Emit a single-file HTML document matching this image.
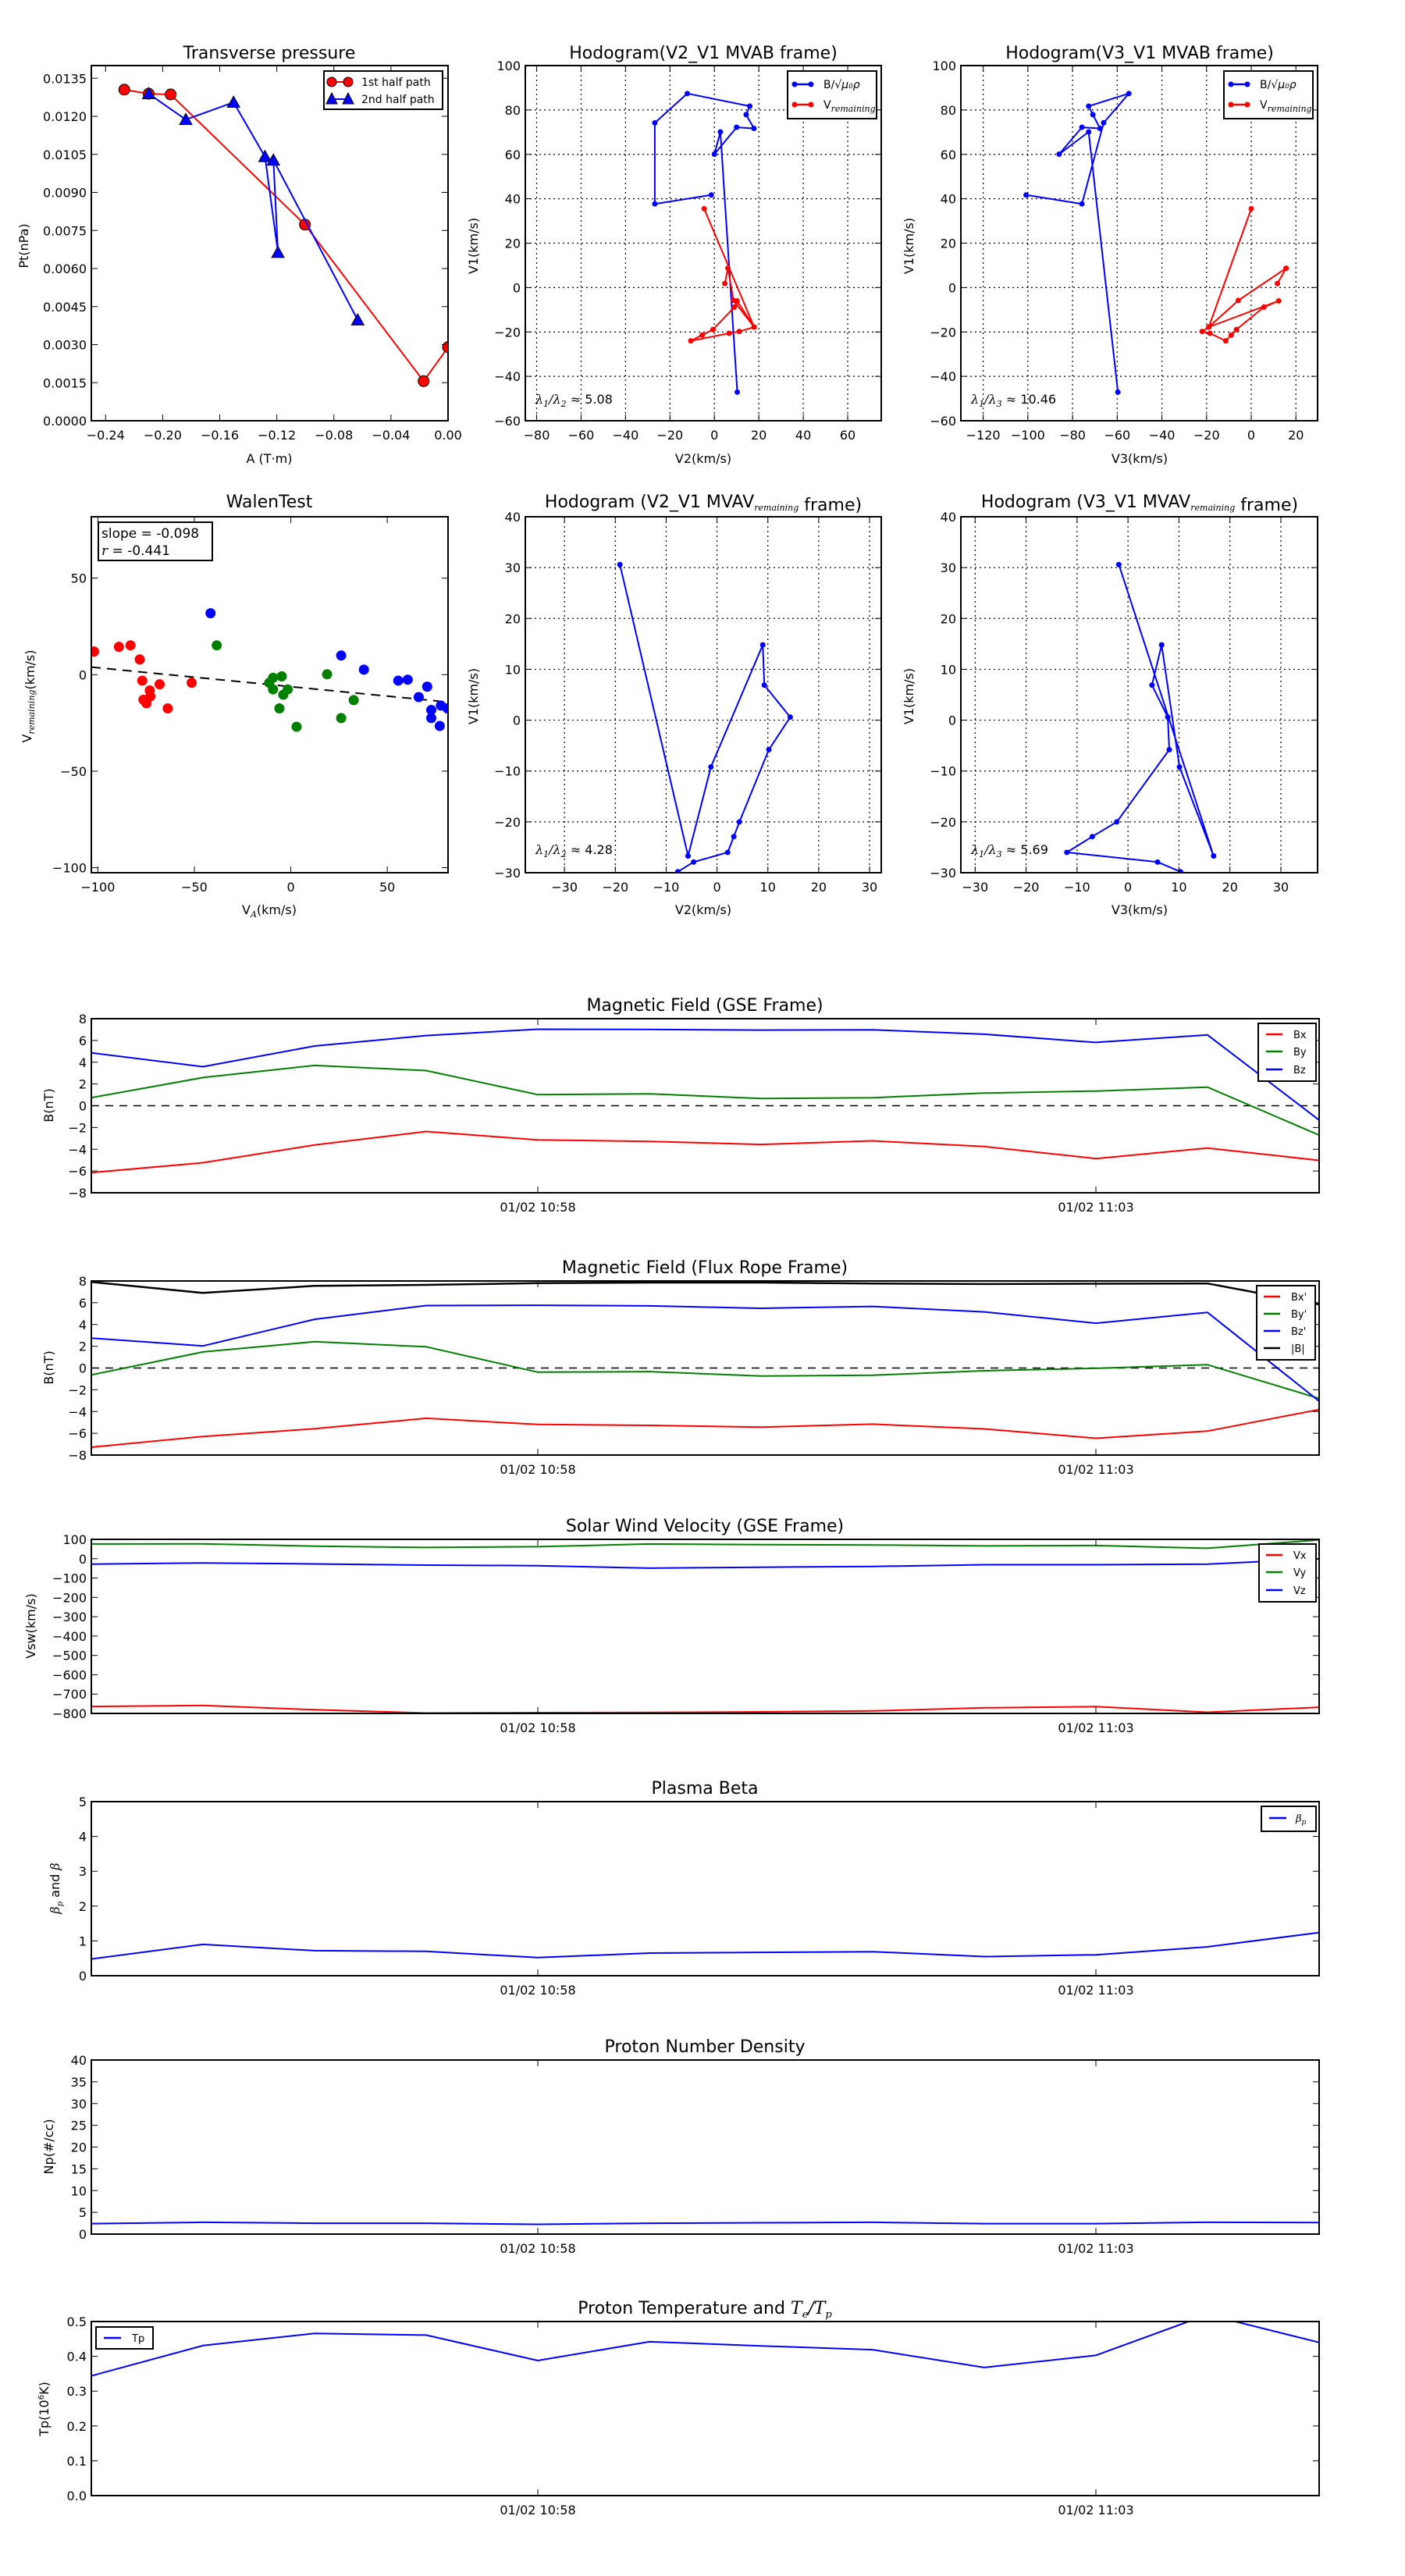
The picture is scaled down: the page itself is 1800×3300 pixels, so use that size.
<!DOCTYPE html>
<html><head><meta charset="utf-8"><title>Flux rope analysis</title>
<style>
html,body{margin:0;padding:0;background:#fff;}
svg{display:block;font-family:"DejaVu Sans","Liberation Sans",sans-serif;}
text{fill:#000;}
</style></head>
<body>
<svg id="fig" xmlns="http://www.w3.org/2000/svg" width="1800" height="3300" viewBox="0 0 1800 3300">
<rect x="0" y="0" width="1800" height="3300" fill="#fff"/>
</svg>
<script>
// ---------- data ----------
const ptA1 = [-0.2269, -0.2098, -0.1944, -0.1003, -0.0171, 0.0];
const ptP1 = [0.01305, 0.01289, 0.01286, 0.00773, 0.00156, 0.00290];
const ptA2 = [-0.2098, -0.1838, -0.1503, -0.1283, -0.1192, -0.1224, -0.0633];
const ptP2 = [0.01289, 0.01187, 0.01255, 0.01041, 0.00663, 0.01027, 0.00397];

const hbV1 = [-47.1, 70.1, 60.1, 72.2, 71.7, 77.9, 81.7, 87.4, 74.2, 37.7, 41.7];
const hbV2 = [10.3, 2.7, 0.0, 10.0, 17.8, 14.3, 15.9, -12.2, -26.8, -26.8, -1.4];
const hbV3 = [-59.7, -72.8, -86.0, -75.8, -67.7, -70.9, -72.8, -54.8, -66.1, -75.8, -100.8];
const hrV1 = [35.5, -17.8, -19.8, -20.6, -24.0, -21.4, -18.9, -8.8, -6.0, -17.8, -5.8, 8.7, 1.8];
const hrV2 = [-4.6, 17.9, 11.2, 6.6, -10.6, -5.5, -0.6, 9.0, 10.2, 17.9, 8.6, 6.1, 4.7];
const hrV3 = [0.0, -19.0, -22.0, -18.5, -11.4, -9.0, -6.6, 5.7, 12.3, -19.0, -5.8, 15.6, 11.7];

const mvV1 = [30.6, -26.7, -9.2, 14.8, 6.9, 0.6, -5.8, -20.0, -22.9, -26.0, -27.9, -29.8];
const mvV2 = [-19.1, -5.7, -1.2, 9.0, 9.3, 14.4, 10.2, 4.4, 3.3, 2.1, -4.6, -7.7];
const mvV3 = [-1.8, 16.8, 10.1, 6.6, 4.7, 7.8, 8.1, -2.2, -7.0, -12.0, 5.8, 10.3];

const walRedX = [-102, -89.1, -83.1, -78.3, -77.0, -76.4, -74.8, -73.1, -72.8, -68.0, -63.8, -51.4];
const walRedY = [12, 14.4, 15.2, 7.9, -3.1, -13.0, -14.8, -8.2, -11.2, -5.0, -17.5, -4.2];
const walGreenX = [-38.4, -11.2, -9.2, -9.2, -4.7, -3.9, -1.6, -5.9, 3.0, 18.8, 26.1, 32.6];
const walGreenY = [15.2, -4.2, -1.6, -7.6, -0.9, -10.4, -7.6, -17.5, -27, 0.2, -22.5, -13.2];
const walBlueX = [-41.6, 26.1, 37.9, 55.7, 60.6, 66.3, 70.7, 72.8, 72.8, 77.2, 77.8, 81.2];
const walBlueY = [31.8, 9.9, 2.6, -3.1, -2.6, -11.6, -6.2, -18.3, -22.5, -26.6, -16, -17.5];
const walSlope = -0.098;
const walIntercept = -6.2;

const timeLabels = ["01/02 10:58", "01/02 11:03"];
const timeTickIdx = [4, 9];
const bx = [-6.15, -5.24, -3.61, -2.37, -3.14, -3.28, -3.56, -3.23, -3.75, -4.86, -3.89, -5.02];
const by = [0.74, 2.59, 3.70, 3.23, 1.02, 1.10, 0.66, 0.74, 1.16, 1.35, 1.71, -2.70];
const bz = [4.86, 3.59, 5.49, 6.45, 7.03, 7.01, 6.95, 6.98, 6.57, 5.82, 6.51, -1.32];
const bxp = [-7.28, -6.29, -5.58, -4.62, -5.19, -5.27, -5.44, -5.16, -5.60, -6.46, -5.80, -3.82];
const byp = [-0.63, 1.48, 2.42, 1.95, -0.38, -0.33, -0.74, -0.66, -0.25, -0.03, 0.30, -2.80];
const bzp = [2.75, 2.03, 4.48, 5.74, 5.77, 5.71, 5.49, 5.66, 5.16, 4.12, 5.11, -3.05];
const bmag = [7.91, 6.90, 7.55, 7.64, 7.80, 7.86, 7.86, 7.77, 7.72, 7.75, 7.77, 5.85];
const vx = [-764, -759, -781, -798, -796, -795, -792, -787, -771, -765, -794, -768];
const vy = [76, 77, 65, 58, 62, 76, 73, 71, 66, 68, 54, 97];
const vz = [-28, -22, -27, -33, -36, -49, -44, -40, -31, -31, -28, -1];
const betaP = [0.48, 0.90, 0.72, 0.70, 0.52, 0.65, 0.67, 0.69, 0.55, 0.60, 0.83, 1.24];
const np = [2.4, 2.7, 2.5, 2.5, 2.25, 2.5, 2.6, 2.7, 2.4, 2.4, 2.7, 2.65];
const tp = [0.344, 0.431, 0.466, 0.461, 0.388, 0.442, 0.430, 0.419, 0.368, 0.403, 0.52, 0.440];

// ---------- helpers ----------
const NS = 'http://www.w3.org/2000/svg';
const svg = document.getElementById('fig');
let clipN = 0;
function mk(tag, attrs, parent) {
  const e = document.createElementNS(NS, tag);
  for (const k in attrs) e.setAttribute(k, attrs[k]);
  (parent || svg).appendChild(e);
  return e;
}
function fmt(v, d) { return v.toFixed(d).replace('-', '\u2212'); }
function txt(x, y, s, size, anchor, parent, name) {
  const t = mk('text', {x: x, y: y, 'font-size': size, 'text-anchor': anchor || 'middle'}, parent);
  t.textContent = s;
  
  
  return t;
}
function range(a, b, s) { const r = []; for (let v = a; v <= b + 1e-9; v += s) r.push(+v.toFixed(6)); return r; }

function axes(o) {
  const g = mk('g', {});
  
  
  const sx = v => o.L + (v - o.xmin) / (o.xmax - o.xmin) * (o.R - o.L);
  const sy = v => o.B - (v - o.ymin) / (o.ymax - o.ymin) * (o.B - o.T);
  const id = 'clip' + (clipN++);
  const cp = mk('clipPath', {id: id}, g);
  mk('rect', {x: o.L, y: o.T, width: o.R - o.L, height: o.B - o.T}, cp);
  if (o.grid) {
    o.xticks.forEach(v => {
      const l = mk('line', {x1: sx(v), x2: sx(v), y1: o.T, y2: o.B, stroke: '#000', 'stroke-width': 1.2, 'stroke-dasharray': '2,4'}, g);
      
      
    });
    o.yticks.forEach(v => {
      const l = mk('line', {x1: o.L, x2: o.R, y1: sy(v), y2: sy(v), stroke: '#000', 'stroke-width': 1.2, 'stroke-dasharray': '2,4'}, g);
      
      
    });
  }
  const plot = mk('g', {'clip-path': 'url(#' + id + ')'}, g);
  
  
  const fr = mk('rect', {x: o.L, y: o.T, width: o.R - o.L, height: o.B - o.T, fill: 'none', stroke: '#000', 'stroke-width': 2}, g);
  
  
  const xt = o.xtickPos || o.xticks;
  xt.forEach((v, i) => {
    const x = sx(v);
    const a = mk('line', {x1: x, x2: x, y1: o.B, y2: o.B - 8, stroke: '#000', 'stroke-width': 1}, g);
    
    
    const b = mk('line', {x1: x, x2: x, y1: o.T, y2: o.T + 8, stroke: '#000', 'stroke-width': 1}, g);
    
    
    const lab = o.xlabels ? o.xlabels[i] : fmt(v, o.xd || 0);
    txt(x, o.B + 24, lab, 16, 'middle', g, 'x-tick-label');
  });
  o.yticks.forEach(v => {
    const y = sy(v);
    const a = mk('line', {x1: o.L, x2: o.L + 8, y1: y, y2: y, stroke: '#000', 'stroke-width': 1}, g);
    
    
    const b = mk('line', {x1: o.R, x2: o.R - 8, y1: y, y2: y, stroke: '#000', 'stroke-width': 1}, g);
    
    
    txt(o.L - 6, y + 6, fmt(v, o.yd || 0), 16, 'end', g, 'y-tick-label');
  });
  return {g: g, plot: plot, sx: sx, sy: sy};
}
function line(ax, xs, ys, color, w, name, dash) {
  const pts = xs.map((x, i) => ax.sx(x).toFixed(1) + ',' + ax.sy(ys[i]).toFixed(1)).join(' ');
  const p = mk('polyline', {points: pts, fill: 'none', stroke: color, 'stroke-width': w, 'stroke-linejoin': 'round'}, ax.plot);
  if (dash) p.setAttribute('stroke-dasharray', dash);
  
  
  return p;
}
function dots(ax, xs, ys, color, r, name, edge) {
  xs.forEach((x, i) => {
    const c = mk('circle', {cx: ax.sx(x), cy: ax.sy(ys[i]), r: r, fill: color, stroke: edge ? '#000' : 'none', 'stroke-width': 1}, ax.plot);
    
    
  });
}
function tris(ax, xs, ys, color, s, name) {
  xs.forEach((x, i) => {
    const cx = ax.sx(x), cy = ax.sy(ys[i]);
    const t = mk('polygon', {points: cx + ',' + (cy - s) + ' ' + (cx - s) + ',' + (cy + s * 0.8) + ' ' + (cx + s) + ',' + (cy + s * 0.8), fill: color, stroke: '#000', 'stroke-width': 1}, ax.plot);
    
    
  });
}
function ylabel(x, y, s, name) {
  const t = mk('text', {x: x, y: y, 'font-size': 16, 'text-anchor': 'middle', transform: 'rotate(-90 ' + x + ' ' + y + ')'});
  t.innerHTML = s;
  
  
  return t;
}
function htext(x, y, s, size, anchor, name) {
  const t = mk('text', {x: x, y: y, 'font-size': size, 'text-anchor': anchor});
  t.innerHTML = s;
  
  
  return t;
}
function legendBox(x, y, w, h, name) {
  const r = mk('rect', {x: x, y: y, width: w, height: h, fill: '#fff', stroke: '#000', 'stroke-width': 2});
  
  
}
function legendLine(x1, x2, y, color, label, tx, size, name) {
  const l = mk('line', {x1: x1, x2: x2, y1: y, y2: y, stroke: color, 'stroke-width': 2.5});
  
  
  htext(tx, y + 5, label, size, 'start', name + '-label');
}
const SUBR = '<tspan font-style="italic" font-family="DejaVu Serif, serif" font-size="11" dy="4">remaining</tspan><tspan dy="-4"></tspan>';

// ---------- Transverse pressure ----------
{
  const ax = axes({name: 'transverse-pressure-axes', L: 117, R: 574, T: 84, B: 539, xmin: -0.25, xmax: 0, ymin: 0, ymax: 0.014,
    xticks: range(-0.24, 0, 0.04), yticks: range(0, 0.0135, 0.0015), xd: 2, yd: 4});
  line(ax, ptA1, ptP1, '#ff0000', 2, 'first-half-path-line');
  dots(ax, ptA1, ptP1, '#ff0000', 7, 'first-half-point', true);
  line(ax, ptA2, ptP2, '#0000ff', 2, 'second-half-path-line');
  tris(ax, ptA2, ptP2, '#0000ff', 8, 'second-half-point');
  htext(345, 75, 'Transverse pressure', 22, 'middle', 'transverse-pressure-title');
  htext(345, 593, 'A (T\u00b7m)', 16, 'middle', 'x-axis-title');
  ylabel(36, 315, 'Pt(nPa)', 'y-axis-title');
  legendBox(415, 91, 152, 49, 'legend');
  const l1 = mk('line', {x1: 425, x2: 446, y1: 105, y2: 105, stroke: '#ff0000', 'stroke-width': 2});
  
  
  [425, 446].forEach(x => { const c = mk('circle', {cx: x, cy: 105, r: 6, fill: '#ff0000', stroke: '#000'});   });
  htext(463, 110, '1st half path', 14, 'start', 'legend-first-half-label');
  const l2 = mk('line', {x1: 425, x2: 446, y1: 127, y2: 127, stroke: '#0000ff', 'stroke-width': 2});
  
  
  [425, 446].forEach(x => { const t = mk('polygon', {points: x + ',119 ' + (x - 7) + ',133 ' + (x + 7) + ',133', fill: '#0000ff', stroke: '#000'});   });
  htext(463, 132, '2nd half path', 14, 'start', 'legend-second-half-label');
}

// ---------- Hodograms row 1 ----------
function hodoLegend(x) {
  legendBox(x, 91, 114, 61, 'hodogram-legend');
  [[108, '#0000ff', 'B/<tspan font-style="italic">\u221a\u03bc\u2080\u03c1</tspan>'], [134, '#ff0000', 'V' + SUBR]].forEach(e => {
    const l = mk('line', {x1: x + 8, x2: x + 31, y1: e[0], y2: e[0], stroke: e[1], 'stroke-width': 2.5});
    
    
    [x + 9, x + 30].forEach(cx => { const c = mk('circle', {cx: cx, cy: e[0], r: 3.5, fill: e[1]});   });
    htext(x + 46, e[0] + 5, e[2], 14, 'start', 'legend-label');
  });
}
{
  const ax = axes({name: 'hodogram-v2-v1-mvab-axes', L: 673, R: 1129, T: 84, B: 539, xmin: -85.1, xmax: 75.1, ymin: -60, ymax: 100,
    xticks: range(-80, 60, 20), yticks: range(-60, 100, 20), grid: true});
  line(ax, hbV2, hbV1, '#0000ff', 2, 'b-hodogram-line');
  dots(ax, hbV2, hbV1, '#0000ff', 3.5, 'b-hodogram-point');
  line(ax, hrV2, hrV1, '#ff0000', 2, 'v-remaining-hodogram-line');
  dots(ax, hrV2, hrV1, '#ff0000', 3.5, 'v-remaining-hodogram-point');
  htext(901, 75, 'Hodogram(V2_V1 MVAB frame)', 22, 'middle', 'hodogram-v2-v1-title');
  htext(901, 593, 'V2(km/s)', 16, 'middle', 'x-axis-title');
  ylabel(612, 315, 'V1(km/s)', 'y-axis-title');
  htext(686, 517, '<tspan font-family="DejaVu Serif, serif" font-style="italic">\u03bb<tspan font-size="11" dy="4">1</tspan><tspan dy="-4">/\u03bb</tspan><tspan font-size="11" dy="4">2</tspan><tspan dy="-4"> \u2248</tspan></tspan> 5.08', 16, 'start', 'eigenvalue-ratio-annotation');
  hodoLegend(1009);
}
{
  const ax = axes({name: 'hodogram-v3-v1-mvab-axes', L: 1231, R: 1688, T: 84, B: 539, xmin: -130, xmax: 29.7, ymin: -60, ymax: 100,
    xticks: range(-120, 20, 20), yticks: range(-60, 100, 20), grid: true});
  line(ax, hbV3, hbV1, '#0000ff', 2, 'b-hodogram-line');
  dots(ax, hbV3, hbV1, '#0000ff', 3.5, 'b-hodogram-point');
  line(ax, hrV3, hrV1, '#ff0000', 2, 'v-remaining-hodogram-line');
  dots(ax, hrV3, hrV1, '#ff0000', 3.5, 'v-remaining-hodogram-point');
  htext(1460, 75, 'Hodogram(V3_V1 MVAB frame)', 22, 'middle', 'hodogram-v3-v1-title');
  htext(1460, 593, 'V3(km/s)', 16, 'middle', 'x-axis-title');
  ylabel(1170, 315, 'V1(km/s)', 'y-axis-title');
  htext(1244, 517, '<tspan font-family="DejaVu Serif, serif" font-style="italic">\u03bb<tspan font-size="11" dy="4">1</tspan><tspan dy="-4">/\u03bb</tspan><tspan font-size="11" dy="4">3</tspan><tspan dy="-4"> \u2248</tspan></tspan> 10.46', 16, 'start', 'eigenvalue-ratio-annotation');
  hodoLegend(1568);
}

// ---------- Walen test ----------
{
  const ax = axes({name: 'walen-test-axes', L: 117, R: 574, T: 662, B: 1118, xmin: -103.4, xmax: 81.5, ymin: -102.6, ymax: 81.8,
    xticks: [-100, -50, 0, 50], yticks: [-100, -50, 0, 50]});
  const lx = [-103.4, 81.5];
  const ly = lx.map(x => walSlope * x + walIntercept);
  line(ax, lx, ly, '#000', 2, 'walen-fit-line', '12,8');
  dots(ax, walRedX, walRedY, '#ff0000', 6.5, 'walen-red-point');
  dots(ax, walGreenX, walGreenY, '#008000', 6.5, 'walen-green-point');
  dots(ax, walBlueX, walBlueY, '#0000ff', 6.5, 'walen-blue-point');
  htext(345, 650, 'WalenTest', 22, 'middle', 'walen-test-title');
  htext(345, 1171, 'V<tspan font-style="italic" font-family="DejaVu Serif, serif" font-size="11" dy="4">A</tspan><tspan dy="-4">(km/s)</tspan>', 16, 'middle', 'x-axis-title');
  ylabel(40, 892, 'V' + SUBR + '(km/s)', 'y-axis-title');
  legendBox(126, 669, 146, 49, 'walen-stats-box');
  htext(130, 689, 'slope = -0.098', 17, 'start', 'walen-slope-text');
  htext(130, 711, '<tspan font-style="italic" font-family="DejaVu Serif, serif">r</tspan> = -0.441', 17, 'start', 'walen-r-text');
}

// ---------- Hodograms row 2 ----------
{
  const ax = axes({name: 'hodogram-v2-v1-mvav-axes', L: 673, R: 1129, T: 662, B: 1118, xmin: -37.7, xmax: 32.3, ymin: -30, ymax: 40,
    xticks: range(-30, 30, 10), yticks: range(-30, 40, 10), grid: true});
  line(ax, mvV2, mvV1, '#0000ff', 2, 'mvav-hodogram-line');
  dots(ax, mvV2, mvV1, '#0000ff', 3.5, 'mvav-hodogram-point');
  htext(901, 650, 'Hodogram (V2_V1 MVAV' + SUBR + ' frame)', 22, 'middle', 'hodogram-mvav-v2-title');
  htext(901, 1171, 'V2(km/s)', 16, 'middle', 'x-axis-title');
  ylabel(612, 892, 'V1(km/s)', 'y-axis-title');
  htext(686, 1094, '<tspan font-family="DejaVu Serif, serif" font-style="italic">\u03bb<tspan font-size="11" dy="4">1</tspan><tspan dy="-4">/\u03bb</tspan><tspan font-size="11" dy="4">2</tspan><tspan dy="-4"> \u2248</tspan></tspan> 4.28', 16, 'start', 'eigenvalue-ratio-annotation');
}
{
  const ax = axes({name: 'hodogram-v3-v1-mvav-axes', L: 1231, R: 1688, T: 662, B: 1118, xmin: -32.8, xmax: 37.2, ymin: -30, ymax: 40,
    xticks: range(-30, 30, 10), yticks: range(-30, 40, 10), grid: true});
  line(ax, mvV3, mvV1, '#0000ff', 2, 'mvav-hodogram-line');
  dots(ax, mvV3, mvV1, '#0000ff', 3.5, 'mvav-hodogram-point');
  htext(1460, 650, 'Hodogram (V3_V1 MVAV' + SUBR + ' frame)', 22, 'middle', 'hodogram-mvav-v3-title');
  htext(1460, 1171, 'V3(km/s)', 16, 'middle', 'x-axis-title');
  ylabel(1170, 892, 'V1(km/s)', 'y-axis-title');
  htext(1244, 1094, '<tspan font-family="DejaVu Serif, serif" font-style="italic">\u03bb<tspan font-size="11" dy="4">1</tspan><tspan dy="-4">/\u03bb</tspan><tspan font-size="11" dy="4">3</tspan><tspan dy="-4"> \u2248</tspan></tspan> 5.69', 16, 'start', 'eigenvalue-ratio-annotation');
}

// ---------- Time series ----------
const tIdx = bx.map((_, i) => i);
function tsAxes(name, T, ymin, ymax, yticks, yd) {
  return axes({name: name, L: 117, R: 1690, T: T, B: T + 223, xmin: 0, xmax: 11, ymin: ymin, ymax: ymax,
    xticks: timeTickIdx, xtickPos: timeTickIdx, xlabels: timeLabels, yticks: yticks, yd: yd});
}
{
  const ax = tsAxes('magnetic-field-gse-axes', 1305, -8, 8, range(-8, 8, 2), 0);
  line(ax, [0, 11], [0, 0], '#000', 1.5, 'zero-line', '10,8');
  line(ax, tIdx, bx, '#ff0000', 2, 'bx-line');
  line(ax, tIdx, by, '#008000', 2, 'by-line');
  line(ax, tIdx, bz, '#0000ff', 2, 'bz-line');
  htext(903, 1295, 'Magnetic Field (GSE Frame)', 22, 'middle', 'magnetic-field-gse-title');
  ylabel(68, 1416, 'B(nT)', 'y-axis-title');
  legendBox(1612, 1311, 74, 74, 'legend');
  legendLine(1622, 1643, 1325, '#ff0000', 'Bx', 1657, 13, 'legend-bx');
  legendLine(1622, 1643, 1347, '#008000', 'By', 1657, 13, 'legend-by');
  legendLine(1622, 1643, 1370, '#0000ff', 'Bz', 1657, 13, 'legend-bz');
}
{
  const ax = tsAxes('magnetic-field-flux-rope-axes', 1641, -8, 8, range(-8, 8, 2), 0);
  line(ax, [0, 11], [0, 0], '#000', 1.5, 'zero-line', '10,8');
  line(ax, tIdx, bxp, '#ff0000', 2, 'bx-prime-line');
  line(ax, tIdx, byp, '#008000', 2, 'by-prime-line');
  line(ax, tIdx, bzp, '#0000ff', 2, 'bz-prime-line');
  line(ax, tIdx, bmag, '#000', 2.5, 'b-magnitude-line');
  htext(903, 1631, 'Magnetic Field (Flux Rope Frame)', 22, 'middle', 'magnetic-field-flux-rope-title');
  ylabel(68, 1752, 'B(nT)', 'y-axis-title');
  legendBox(1610, 1647, 75, 95, 'legend');
  legendLine(1619, 1640, 1661, '#ff0000', "Bx'", 1654, 13, 'legend-bx-prime');
  legendLine(1619, 1640, 1683, '#008000', "By'", 1654, 13, 'legend-by-prime');
  legendLine(1619, 1640, 1705, '#0000ff', "Bz'", 1654, 13, 'legend-bz-prime');
  legendLine(1619, 1640, 1727, '#000', '|B|', 1654, 13, 'legend-b-magnitude');
}
{
  const ax = tsAxes('solar-wind-velocity-axes', 1972, -800, 100, range(-800, 100, 100), 0);
  line(ax, tIdx, vx, '#ff0000', 2, 'vx-line');
  line(ax, tIdx, vy, '#008000', 2, 'vy-line');
  line(ax, tIdx, vz, '#0000ff', 2, 'vz-line');
  htext(903, 1962, 'Solar Wind Velocity (GSE Frame)', 22, 'middle', 'solar-wind-velocity-title');
  ylabel(45, 2083, 'Vsw(km/s)', 'y-axis-title');
  legendBox(1613, 1978, 73, 74, 'legend');
  legendLine(1622, 1643, 1992, '#ff0000', 'Vx', 1657, 13, 'legend-vx');
  legendLine(1622, 1643, 2014, '#008000', 'Vy', 1657, 13, 'legend-vy');
  legendLine(1622, 1643, 2037, '#0000ff', 'Vz', 1657, 13, 'legend-vz');
}
{
  const ax = tsAxes('plasma-beta-axes', 2308, 0, 5, range(0, 5, 1), 0);
  line(ax, tIdx, betaP, '#0000ff', 2, 'beta-p-line');
  htext(903, 2298, 'Plasma Beta', 22, 'middle', 'plasma-beta-title');
  ylabel(76, 2419, '<tspan font-style="italic" font-family="DejaVu Serif, serif">\u03b2<tspan font-size="10" dy="4">p</tspan></tspan><tspan dy="-4"> and </tspan><tspan font-style="italic" font-family="DejaVu Serif, serif">\u03b2</tspan>', 'y-axis-title');
  legendBox(1616, 2314, 70, 32, 'legend');
  legendLine(1626, 1648, 2329, '#0000ff', '<tspan font-style="italic" font-family="DejaVu Serif, serif">\u03b2<tspan font-size="9" dy="3">p</tspan></tspan>', 1660, 13, 'legend-beta-p');
}
{
  const ax = tsAxes('proton-density-axes', 2639, 0, 40, range(0, 40, 5), 0);
  line(ax, tIdx, np, '#0000ff', 2, 'np-line');
  htext(903, 2629, 'Proton Number Density', 22, 'middle', 'proton-density-title');
  ylabel(68, 2750, 'Np(#/cc)', 'y-axis-title');
}
{
  const ax = tsAxes('proton-temperature-axes', 2974, 0, 0.5, range(0, 0.5, 0.1), 1);
  line(ax, tIdx, tp, '#0000ff', 2, 'tp-line');
  htext(903, 2964, 'Proton Temperature and <tspan font-style="italic" font-family="DejaVu Serif, serif">T<tspan font-size="13" dy="5">e</tspan><tspan dy="-5">/T</tspan><tspan font-size="13" dy="5">p</tspan></tspan>', 22, 'middle', 'proton-temperature-title');
  ylabel(62, 3086, 'Tp(10<tspan font-size="10" dy="-6">6</tspan><tspan dy="6">K)</tspan>', 'y-axis-title');
  legendBox(123, 2981, 73, 28, 'legend');
  legendLine(133, 155, 2995, '#0000ff', 'Tp', 169, 13, 'legend-tp');
}
</script>
</body></html>
